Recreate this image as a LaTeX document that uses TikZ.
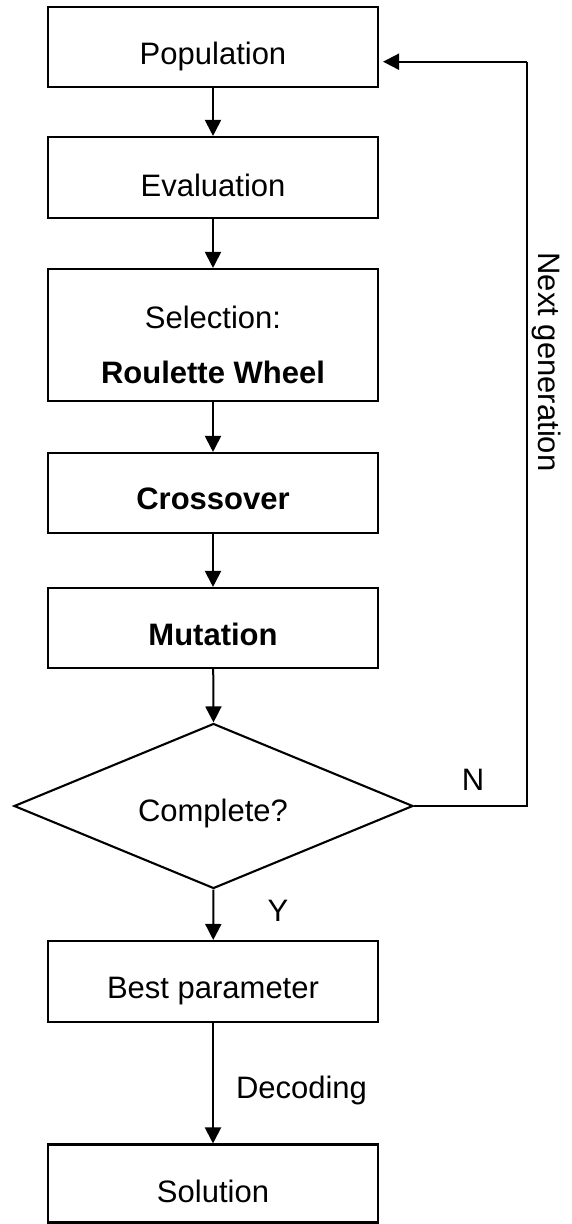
\documentclass[tikz,border=0pt]{standalone}
\usepackage{fontspec}
\setmainfont{Liberation Sans}
\usetikzlibrary{arrows.meta,shapes.geometric}

\begin{document}
\begin{tikzpicture}[x=1pt,y=-1pt,
  stepbox/.style={draw=black,line width=2.1pt,rectangle,inner sep=0pt,
                  minimum width=330pt},
  decision/.style={draw=black,line width=2.1pt,diamond,inner sep=0pt,
                  minimum width=399pt,minimum height=165pt},
  txt/.style={anchor=base,inner sep=0pt,font=\fontsize{31}{37}\selectfont},
  btxt/.style={txt,font=\fontsize{31}{37}\selectfont\bfseries},
  flow/.style={line width=2pt,-{Triangle[length=16pt,width=16pt]}},
  loopline/.style={line width=1.1pt},
]
\useasboundingbox (0,0) rectangle (571,1224);

% process boxes
\node[stepbox,minimum height=80pt]  (pop)   at (213,47)    {};
\node[stepbox,minimum height=81pt]  (eval)  at (213,177.5) {};
\node[stepbox,minimum height=132pt] (sel)   at (213,335)   {};
\node[stepbox,minimum height=80pt]  (cross) at (213,493)   {};
\node[stepbox,minimum height=80pt]  (mut)   at (213,628)   {};
\node[decision]                     (dia)   at (213.5,806) {};
\node[stepbox,minimum height=81pt]  (best)  at (213,981.5) {};
\node[stepbox,minimum height=78pt]  (sol)   at (213,1183.5){};

% box texts
\node[txt]  (popt)   at (213,64)     {Population};
\node[txt]  (evalt)  at (213,196)    {Evaluation};
\node[txt]  (selt)   at (213,328.6)  {Selection:};
\node[btxt] (rwt)    at (213,383)    {Roulette Wheel};
\node[btxt] (crosst) at (213,509.6)  {Crossover};
\node[btxt] (mutt)   at (213,645)    {Mutation};
\node[txt]  (diat)   at (213,821)    {Complete?};
\node[txt]  (bestt)  at (213,998.6)  {Best parameter};
\node[txt]  (solt)   at (213,1202)   {Solution};

% main flow
\draw[flow] (pop)  -- (eval);
\draw[flow] (eval) -- (sel);
\draw[flow] (sel)  -- (cross);
\draw[flow] (cross)-- (mut);
\draw[flow] (mut)  -- (dia.north);
\draw[flow] (dia.south) -- (best);
\draw[flow] (best) -- (sol);

% loop back for the next generation
\coordinate (fbr)   at (527,806);
\coordinate (fbtop) at (527,61.7);
\draw[loopline] (dia.east) -- (fbr) -- (fbtop);
\draw[flow,shorten >=4pt] (fbtop) -- (pop.east |- fbtop);

% labels
\node[txt] (nlab)  at (473,790)   {N};
\node[txt] (ylab)  at (278,921)   {Y};
\node[txt] (dlab)  at (301.5,1098){Decoding};
\node[txt,rotate=-90] (nglab) at (538,362) {Next generation};
\end{tikzpicture}
\end{document}
